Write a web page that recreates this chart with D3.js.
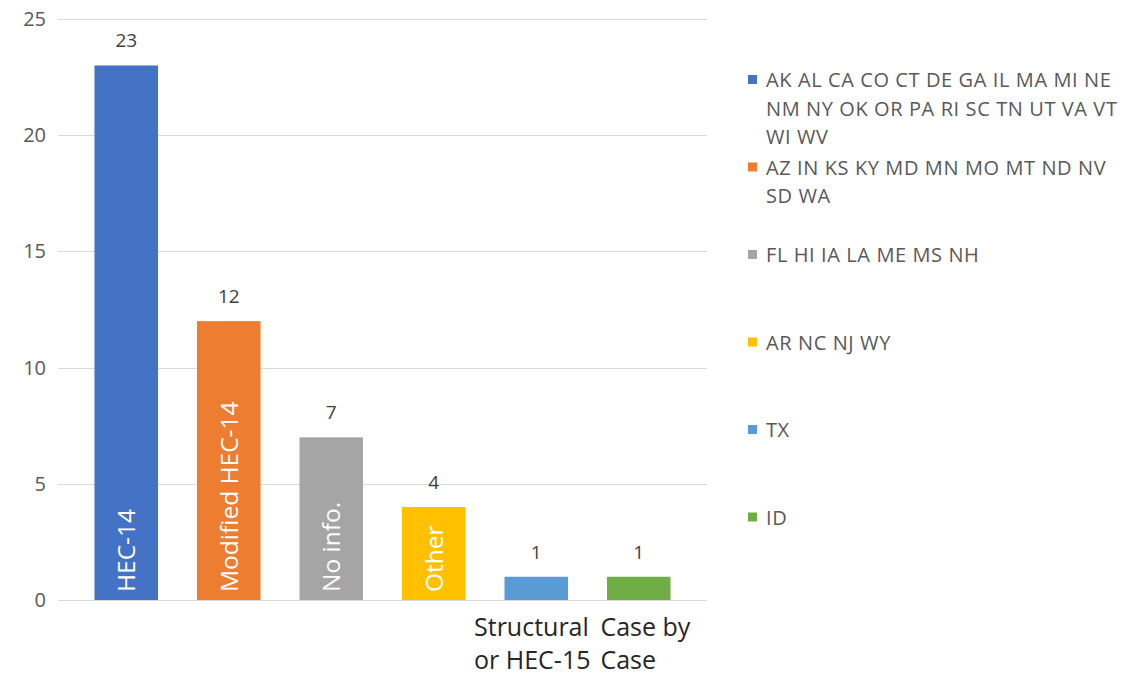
<!DOCTYPE html>
<html>
<head>
<meta charset="utf-8">
<script src="https://cdn.jsdelivr.net/npm/d3@7"></script>
<style>
  html, body { margin: 0; padding: 0; background: #fff; }
  svg { display: block; font-family: "Open Sans", "Noto Sans", sans-serif; }
</style>
</head>
<body>
<svg id="chart" width="1127" height="676"></svg>
<script>
// Number of states using each approach
const categories = ["HEC-14", "Modified HEC-14", "No info.", "Other", "Structural or HEC-15", "Case by Case"];
const values = [23, 12, 7, 4, 1, 1];
// Labels drawn inside the bars (rotated) vs. below the axis
const innerLabels = ["HEC-14", "Modified HEC-14", "No info.", "Other", null, null];
const axisLabels = [null, null, null, null, ["Structural", "or HEC-15"], ["Case by", "Case"]];
// Legend: states in each group
const legendLines = [
  ["AK AL CA CO CT DE GA IL MA MI NE", "NM NY OK OR PA RI SC TN UT VA VT", "WI WV"],
  ["AZ IN KS KY MD MN MO MT ND NV", "SD WA"],
  ["FL HI IA LA ME MS NH"],
  ["AR NC NJ WY"],
  ["TX"],
  ["ID"]
];
const colors = ["#4472C4", "#ED7D31", "#A5A5A5", "#FFC000", "#5B9BD5", "#70AD47"];
const yTicks = [0, 5, 10, 15, 20, 25];

const svg = d3.select("#chart");

const y = d3.scaleLinear().domain([0, 25]).range([600, 19]);
const x = d3.scaleBand().domain(categories).range([75, 690]).paddingInner(0.38).paddingOuter(0.19);

// Gridlines
svg.append("g").selectAll("line").data(yTicks).join("line")
  .attr("x1", 58).attr("x2", 707)
  .attr("y1", d => Math.round(y(d)) + 0.5).attr("y2", d => Math.round(y(d)) + 0.5)
  .attr("stroke", "#d9d9d9").attr("stroke-width", 1);

// Y axis labels
const yAxis = d3.axisLeft(y).tickValues(yTicks).tickSize(0).tickPadding(0);
const yg = svg.append("g").attr("transform", "translate(46,0)").call(yAxis);
yg.select(".domain").remove();
yg.selectAll("text").attr("font-size", 20).attr("fill", "#595959")
  .attr("font-family", "'Open Sans', 'Noto Sans', sans-serif");

// Bars
svg.append("g").selectAll("rect").data(values).join("rect")
  .attr("x", (d, i) => x(categories[i]))
  .attr("width", x.bandwidth())
  .attr("y", d => y(d))
  .attr("height", d => y(0) - y(d))
  .attr("fill", (d, i) => colors[i]);

// Value labels above bars
svg.append("g").selectAll("text").data(values).join("text")
  .attr("x", (d, i) => x(categories[i]) + x.bandwidth() / 2)
  .attr("y", d => y(d) - 18)
  .attr("text-anchor", "middle")
  .attr("font-size", 19).attr("fill", "#404040")
  .text(d => d);

// Rotated labels inside bars
innerLabels.forEach((d, i) => {
  if (d === null) return;
  const cx = x(categories[i]) + x.bandwidth() / 2 + 9;
  svg.append("text")
    .attr("transform", `translate(${cx},${y(0) - 8}) rotate(-90)`)
    .attr("font-size", 24.5).attr("fill", "#ffffff")
    .text(d);
});

// Category labels below the axis: left-aligned blocks, centred under the bar
// where room allows, otherwise pushed right of the previous block
let prevRight = -Infinity;
axisLabels.forEach((lines, i) => {
  if (!lines) return;
  const cx = x(categories[i]) + x.bandwidth() / 2;
  const texts = lines.map((ln, j) => svg.append("text")
    .attr("font-size", 25).attr("fill", "#262626")
    .attr("y", 636 + j * 33).text(ln));
  const w = d3.max(texts, s => s.node().getComputedTextLength());
  const left = Math.max(cx - w / 2 - 4, prevRight + 10);
  texts.forEach(s => s.attr("x", left));
  prevRight = left + w;
});

// Legend
const lg = svg.append("g");
legendLines.forEach((lines, i) => {
  const top = 80 + i * 87.5;
  lg.append("rect").attr("x", 748).attr("y", top - 5).attr("width", 9).attr("height", 9)
    .attr("fill", colors[i]);
  const t = lg.append("text").attr("font-size", 20).attr("letter-spacing", 0.6)
    .attr("fill", "#595959");
  lines.forEach((ln, j) => {
    t.append("tspan").attr("x", 766).attr("y", top + 7 + j * 28.5).text(ln);
  });
});
</script>
</body>
</html>
